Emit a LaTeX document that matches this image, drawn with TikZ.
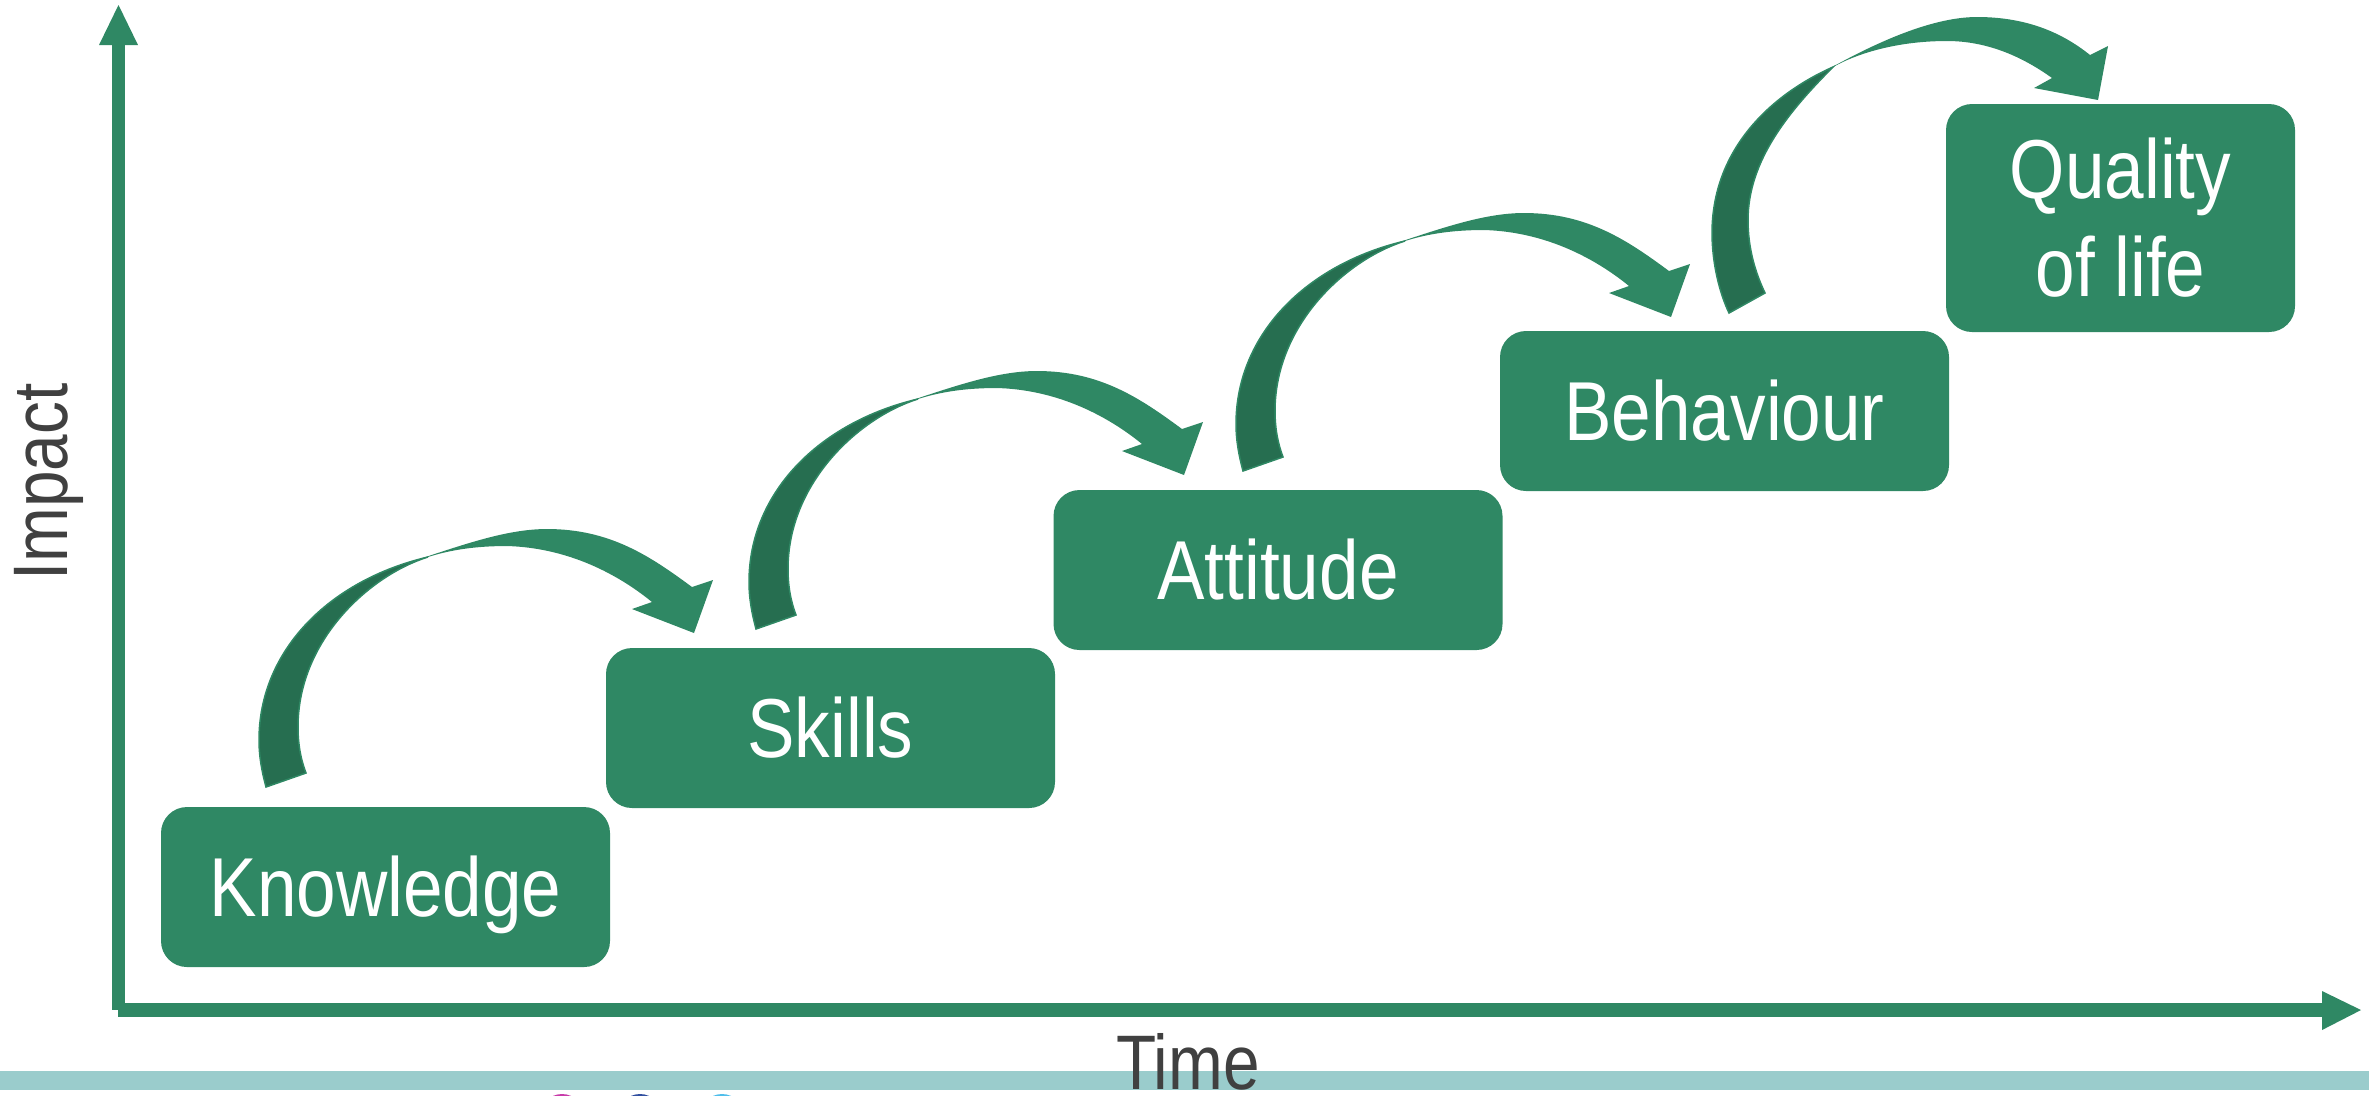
\documentclass[tikz,border=0pt]{standalone}
\usepackage{fontspec}
\setmainfont{Liberation Sans}[FakeStretch=0.85]
\definecolor{boxgreen}{RGB}{47,136,100}
\definecolor{darkgreen}{RGB}{38,110,80}
\definecolor{textgray}{RGB}{64,64,64}
\definecolor{tealbar}{RGB}{154,204,204}
\definecolor{dotmagenta}{RGB}{200,60,170}
\definecolor{dotblue}{RGB}{50,80,160}
\definecolor{dotcyan}{RGB}{80,190,235}
\begin{document}
\begin{tikzpicture}[x=0.1mm,y=-0.1mm,
  box/.style={fill=boxgreen, rounded corners=2.6mm, inner sep=0pt, text=white,
    font=\fontsize{23.8pt}{27.9pt}\selectfont, minimum width=44.9mm, minimum height=16mm,
    text height=17pt, text depth=0pt},
  qbox/.style={fill=boxgreen, rounded corners=2.6mm, inner sep=0pt, text=white,
    font=\fontsize{23.8pt}{27.9pt}\selectfont, minimum width=34.9mm, minimum height=22.8mm,
    align=center},
  axislabel/.style={text=textgray, font=\fontsize{22pt}{26pt}\selectfont, inner sep=0pt},
  darkpart/.style={fill=darkgreen, draw=boxgreen, line width=0.15mm},
  lightpart/.style={fill=boxgreen},
  axisfill/.style={fill=boxgreen},
  curvarrow/.pic={
    \path[darkpart] (266,787) .. controls (262,772) and (259,757) .. (259,740)
      .. controls (259,650) and (330,580) .. (428,557)
      .. controls (370,575) and (298,640) .. (298,727)
      .. controls (298,745) and (301,760) .. (306,773) -- cycle;
    \path[lightpart] (410,562) .. controls (460,546) and (505,529) .. (547,529)
      .. controls (610,529) and (650,556) .. (692,587)
      -- (713,580) -- (694,633) -- (632,609) -- (652,602)
      .. controls (625,580) and (575,548) .. (507,546)
      .. controls (475,546) and (450,550) .. (428,557)
      -- (416,561) -- cycle;
  }
]
\useasboundingbox (0,0) rectangle (2369,1095);
\clip (0,0) rectangle (2369,1095);

% bottom band and partial logo dots
\fill[tealbar] (0,1071) rectangle (2369,1090);
\fill[dotmagenta] (562,1116) circle (22);
\fill[dotblue] (640,1116) circle (22);
\fill[dotcyan] (722,1116) circle (22);

% axes
\coordinate (origin) at (118.5,1010);
\coordinate (ytip) at (118.5,5);
\coordinate (xtip) at (2361,1010);
\fill[axisfill] (112,1010) rectangle (125,45);
\fill[axisfill] (99,45) -- (ytip) -- (138,45) -- cycle;
\fill[axisfill] (118,1003) rectangle (2322,1017);
\fill[axisfill] (2322,991) -- (xtip) -- (2322,1030) -- cycle;

\node[axislabel, anchor=base, text depth=0pt] (time) at (1188,1089) {Time};
\node[axislabel, anchor=base, rotate=90] (impact) at (67,482) {Impact};

% boxes
\node[box] (know) at (385.5,887) {Knowledge};
\node[box] (skill) at (830.5,728) {Skills};
\node[box] (att) at (1278,570) {Attitude};
\node[box] (beh) at (1724.5,411) {Behaviour};
\node[qbox] (qol) at (2120.5,218) {Quality\\of life};

% curved arrows
\pic at (0,0) {curvarrow};
\pic at (490,-158) {curvarrow};
\pic at (977,-316) {curvarrow};

% last arrow
\path[darkpart] (1729,313) .. controls (1719,292) and (1712,262) .. (1712,233)
  .. controls (1712,150) and (1770,95) .. (1833,67)
  .. controls (1790,110) and (1748,160) .. (1748,220)
  .. controls (1748,248) and (1755,272) .. (1765,293) -- cycle;
\path[lightpart] (1818,75) .. controls (1870,45) and (1930,17) .. (1977,17)
  .. controls (2030,17) and (2065,35) .. (2090,55)
  -- (2108,46) -- (2098,100) -- (2034,88) -- (2052,78)
  .. controls (2020,55) and (1985,41) .. (1947,41)
  .. controls (1900,41) and (1860,52) .. (1833,67)
  -- (1823,73) -- cycle;
\end{tikzpicture}
\end{document}
